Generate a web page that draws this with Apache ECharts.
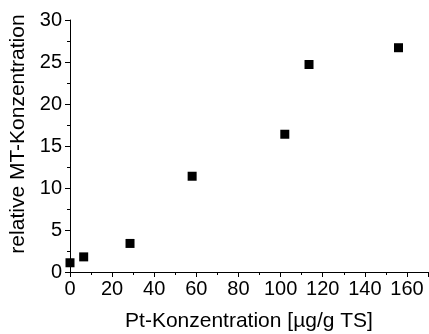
<!DOCTYPE html>
<html>
<head>
<meta charset="utf-8">
<script src="https://cdn.jsdelivr.net/npm/echarts@6/dist/echarts.min.js"></script>
<style>
  html, body { margin: 0; padding: 0; background: #fff; }
  #chart { width: 429px; height: 334px; }
</style>
</head>
<body>
<div id="chart"></div>
<script>
// Pt-Konzentration [µg/g TS]
var ptValues = [0, 6.5, 28.5, 58, 102, 113.5, 156]
// relative MT-Konzentration
var mtValues = [1.1, 1.8, 3.4, 11.4, 16.4, 24.7, 26.7]

var points = ptValues.map(function (x, i) { return [x, mtValues[i]] })

var chart = echarts.init(document.getElementById('chart'))
var font = 'Liberation Sans, Arial, sans-serif'

chart.setOption({
  animation: false,
  grid: {
    left: 70,
    right: 1,
    top: 20,
    bottom: 62,
    outerBoundsMode: 'none'
  },
  xAxis: {
    type: 'value',
    min: 0,
    max: 170,
    interval: 20,
    name: 'Pt-Konzentration [µg/g TS]',
    nameLocation: 'middle',
    nameGap: 39,
    nameTextStyle: { color: '#000', fontSize: 21, fontFamily: font },
    axisLine: { lineStyle: { color: '#000', width: 1 } },
    axisTick: { inside: false, length: 5, lineStyle: { color: '#000' } },
    minorTick: { show: true, splitNumber: 2, length: 3, lineStyle: { color: '#000' } },
    axisLabel: {
      color: '#000', fontSize: 20, fontFamily: font, margin: 7,
      showMaxLabel: false
    },
    splitLine: { show: false }
  },
  yAxis: {
    type: 'value',
    min: 0,
    max: 30,
    interval: 5,
    name: 'relative MT-Konzentration',
    nameLocation: 'middle',
    nameGap: 40,
    nameTextStyle: { color: '#000', fontSize: 21, fontFamily: font, padding: [0, 0, 0, 24] },
    axisLine: { show: true, lineStyle: { color: '#000', width: 1 } },
    axisTick: { show: true, inside: false, length: 5, lineStyle: { color: '#000' } },
    minorTick: { show: true, splitNumber: 2, length: 3, lineStyle: { color: '#000' } },
    axisLabel: { color: '#000', fontSize: 20, fontFamily: font, margin: 8 },
    splitLine: { show: false }
  },
  series: [{
    type: 'scatter',
    symbol: 'rect',
    symbolSize: 9,
    itemStyle: { color: '#000', opacity: 1 },
    data: points
  }]
})
</script>
</body>
</html>
